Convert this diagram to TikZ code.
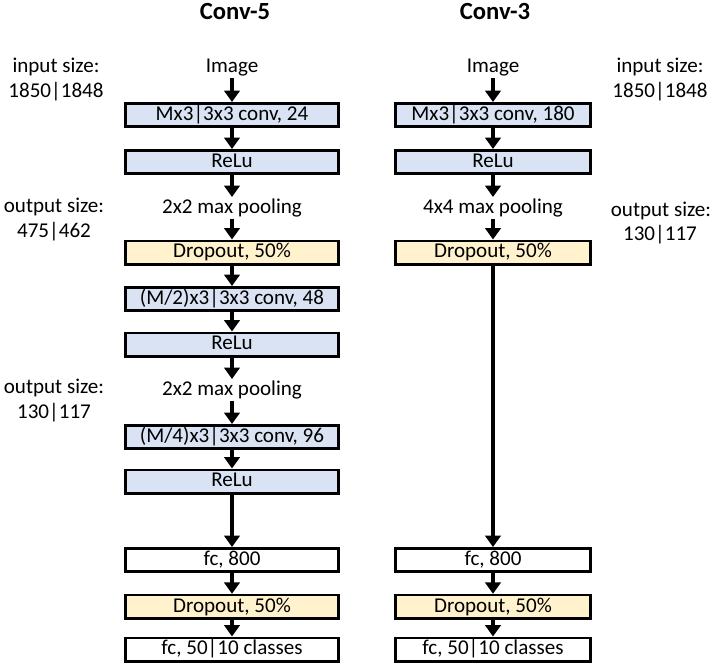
\documentclass[tikz,border=0pt]{standalone}
\usepackage{fontspec}
\setmainfont{Carlito}
\usetikzlibrary{arrows.meta}
\definecolor{convblue}{HTML}{DAE3F3}
\definecolor{dropyellow}{HTML}{FFF2CC}
\begin{document}
\begin{tikzpicture}[x=0.75pt,y=-0.75pt,
 every node/.style={font=\fontsize{15.8}{18}\selectfont},
 box/.style={draw=black, line width=2pt, minimum height=17.5pt, inner sep=0pt, text height=10.8pt, text depth=3pt},
 lbox/.style={box, minimum width=160pt},
 rbox/.style={box, minimum width=146.6pt},
 conv/.style={fill=convblue}, drop/.style={fill=dropyellow}, fcbox/.style={fill=white},
 txt/.style={inner xsep=0pt, inner ysep=1pt, text height=10.8pt, text depth=3pt, anchor=base},
 arr/.style={-{Triangle[width=11.5pt,length=8.5pt]}, line width=2.5pt},
]
\fill[white] (0,0) rectangle (715,671);
\useasboundingbox (0,0) rectangle (715,671);

% titles
\node[txt, font=\fontsize{18.5}{20}\selectfont\bfseries] (t5) at (235,20) {Conv-5};
\node[txt, font=\fontsize{18.5}{20}\selectfont\bfseries] (t3) at (495,20) {Conv-3};

% left column
\node[txt] (img5) at (232,72.5) {Image};
\node[lbox, conv] (c51) at (232,115) {Mx3|3x3 conv, 24};
\node[lbox, conv] (r51) at (232,162) {ReLu};
\node[txt] (p51) at (232,213) {2x2 max pooling};
\node[lbox, drop] (d51) at (232,252.5) {Dropout, 50\%};
\node[lbox, conv] (c52) at (232,299) {(M/2)x3|3x3 conv, 48};
\node[lbox, conv] (r52) at (232,344.5) {ReLu};
\node[txt] (p52) at (232,395) {2x2 max pooling};
\node[lbox, conv] (c53) at (232,437) {(M/4)x3|3x3 conv, 96};
\node[lbox, conv] (r53) at (232,481.5) {ReLu};
\node[lbox, fcbox] (f51) at (232,560) {fc, 800};
\node[lbox, drop] (d52) at (232,606.8) {Dropout, 50\%};
\node[lbox, fcbox] (f52) at (232,649.5) {fc, 50|10 classes};

% right column
\node[txt] (img3) at (493,72.5) {Image};
\node[rbox, conv] (c31) at (493,115) {Mx3|3x3 conv, 180};
\node[rbox, conv] (r31) at (493,162) {ReLu};
\node[txt] (p31) at (493,213) {4x4 max pooling};
\node[rbox, drop] (d31) at (493,252.5) {Dropout, 50\%};
\node[rbox, fcbox] (f31) at (493,560) {fc, 800};
\node[rbox, drop] (d32) at (493,606.8) {Dropout, 50\%};
\node[rbox, fcbox] (f32) at (493,649.5) {fc, 50|10 classes};

% side labels
\node[txt] (l1a) at (56,72) {input size:};
\node[txt] (l1b) at (56,97) {1850|1848};
\node[txt] (l2a) at (54,212) {output size:};
\node[txt] (l2b) at (54,237) {475|462};
\node[txt] (l3a) at (54,393) {output size:};
\node[txt] (l3b) at (54,418) {130|117};
\node[txt] (q1a) at (660,72) {input size:};
\node[txt] (q1b) at (660,97) {1850|1848};
\node[txt] (q2a) at (661,216) {output size:};
\node[txt] (q2b) at (660,240) {130|117};

% arrows left
\foreach \a/\b in {img5/c51, c51/r51, r51/p51, p51/d51, d51/c52, c52/r52, r52/p52, p52/c53, c53/r53, r53/f51, f51/d52, d52/f52}
  \draw[arr] (\a.south) -- (\b.north);
% arrows right
\foreach \a/\b in {img3/c31, c31/r31, r31/p31, p31/d31, d31/f31, f31/d32, d32/f32}
  \draw[arr] (\a.south) -- (\b.north);
\end{tikzpicture}
\end{document}
